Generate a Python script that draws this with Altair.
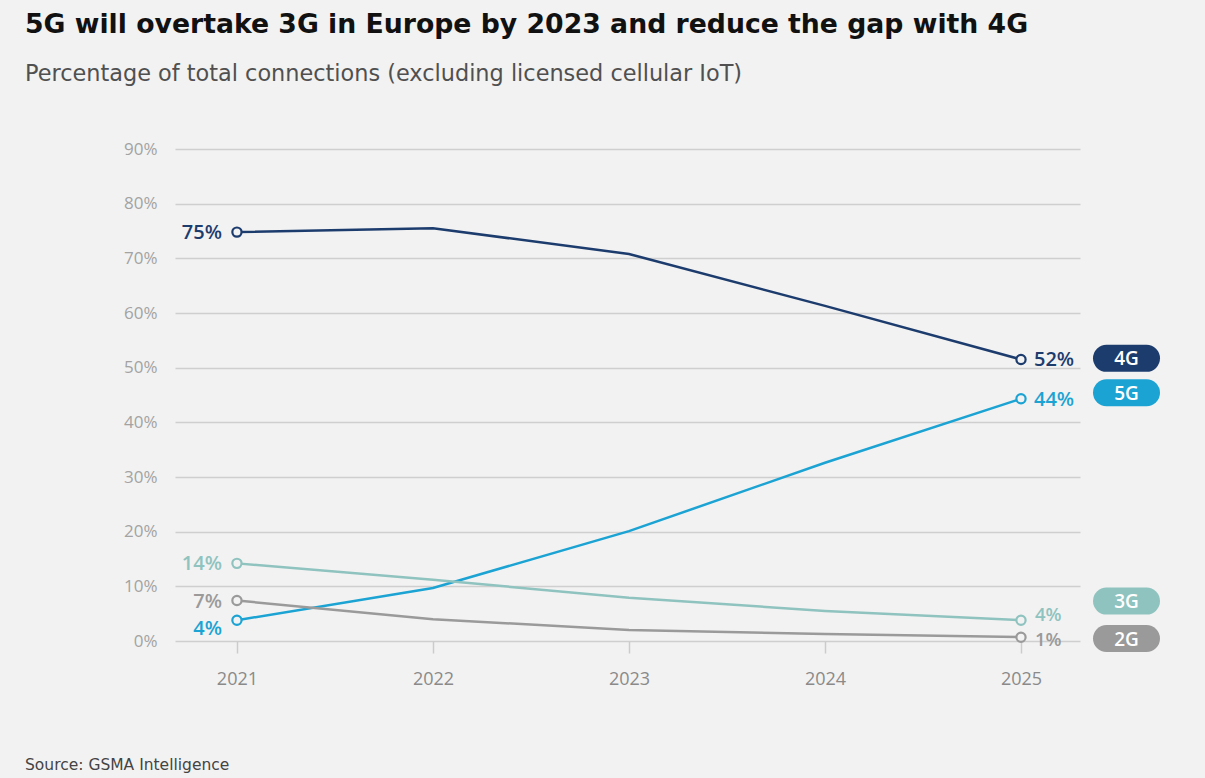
import altair as alt
import pandas as pd

# ---- data ----
years = [2021, 2022, 2023, 2024, 2025]
series = ["4G", "5G", "3G", "2G"]
g4 = [74.8, 75.5, 70.8, 61.3, 51.5]
g5 = [3.8, 9.7, 20.1, 32.6, 44.3]
g3 = [14.2, 11.2, 7.9, 5.5, 3.8]
g2 = [7.4, 4.0, 2.0, 1.3, 0.7]
start_labels = ["75%", "4%", "14%", "7%"]
end_labels = ["52%", "44%", "4%", "1%"]
legend_anchor = [51.7, 45.4, 7.3, 0.45]  # value level where each legend pill sits

title = "5G will overtake 3G in Europe by 2023 and reduce the gap with 4G"
subtitle = "Percentage of total connections (excluding licensed cellular IoT)"
source = "Source: GSMA Intelligence"
y_ticks = [0, 10, 20, 30, 40, 50, 60, 70, 80, 90]

colors = ["#1d3c6e", "#1ba3d3", "#8fc3bf", "#9a9a9a"]
FONT = "Open Sans"
HFONT = "DejaVu Sans"
BG = "#f2f2f2"

vals = {"4G": g4, "5G": g5, "3G": g3, "2G": g2}
rows = []
for s in series:
    for yr, v in zip(years, vals[s]):
        rows.append({"series": s, "year": yr, "value": v})
df = pd.DataFrame(rows)

lab_rows = []
for i, s in enumerate(series):
    lab_rows.append({"series": s, "year": years[0], "value": vals[s][0], "text": start_labels[i], "side": "start"})
    lab_rows.append({"series": s, "year": years[-1], "value": vals[s][-1], "text": end_labels[i], "side": "end"})
labels = pd.DataFrame(lab_rows)

legend_df = pd.DataFrame({"series": series, "value": legend_anchor})

color = alt.Color("series:N", scale=alt.Scale(domain=series, range=colors), legend=None)
xenc = alt.X("year:Q",
             scale=alt.Scale(domain=[2020.684, 2025.301], nice=False, zero=False),
             axis=alt.Axis(values=years, format="d", title=None, grid=False, domain=False,
                           ticks=True, tickSize=12, tickColor="#cccccc", tickWidth=1.5,
                           labelFont=FONT, labelFontSize=18, labelColor="#8a8a8a", labelPadding=17))
yenc = alt.Y("value:Q",
             scale=alt.Scale(domain=[0, 90], nice=False),
             axis=alt.Axis(values=y_ticks, labelExpr="datum.value + '%'", title=None, domain=False,
                           ticks=False, grid=True, gridColor="#cfcfcf", gridWidth=1.5,
                           labelFont=FONT, labelFontSize=17, labelColor="#a3a3a3", labelPadding=18))

base = alt.Chart(df)
lines = base.mark_line(strokeWidth=2.5).encode(x=xenc, y=yenc, color=color, order="year:Q")
pts = alt.Chart(labels).mark_point(shape="circle", filled=False, size=85, strokeWidth=2.2,
                                   fill=BG, fillOpacity=1, opacity=1).encode(
    x="year:Q", y="value:Q", stroke=alt.Stroke("series:N", scale=alt.Scale(domain=series, range=colors), legend=None))

tstyle = dict(font=FONT, fontSize=20, fontWeight=600)
sstyle = dict(font=FONT, fontSize=18.5, fontWeight=600)
left_main = alt.Chart(labels).transform_filter("datum.side == 'start' && datum.series != '5G'").mark_text(
    align="right", baseline="middle", dx=-15, dy=1, **tstyle).encode(x="year:Q", y="value:Q", text="text:N", color=color)
left_5g = alt.Chart(labels).transform_filter("datum.side == 'start' && datum.series == '5G'").mark_text(
    align="right", baseline="middle", dx=-15, dy=9, **tstyle).encode(x="year:Q", y="value:Q", text="text:N", color=color)
right_main = alt.Chart(labels).transform_filter(
    "datum.side == 'end' && datum.series != '3G' && datum.series != '2G'").mark_text(
    align="left", baseline="middle", dx=13, dy=1, **tstyle).encode(x="year:Q", y="value:Q", text="text:N", color=color)
right_3g = alt.Chart(labels).transform_filter("datum.side == 'end' && datum.series == '3G'").mark_text(
    align="left", baseline="middle", dx=14, dy=-5, **sstyle).encode(x="year:Q", y="value:Q", text="text:N", color=color)
right_2g = alt.Chart(labels).transform_filter("datum.side == 'end' && datum.series == '2G'").mark_text(
    align="left", baseline="middle", dx=14, dy=3, **sstyle).encode(x="year:Q", y="value:Q", text="text:N", color=color)

pills = alt.Chart(legend_df).mark_rule(strokeWidth=27, strokeCap="round").encode(
    x=alt.value(931.5), x2=alt.value(971.5), y="value:Q", color=color)
pill_text = alt.Chart(legend_df).mark_text(color="white", font=FONT, fontSize=19, fontWeight=600,
                                           align="center", baseline="middle", dy=1).encode(
    x=alt.value(951.5), y="value:Q", text="series:N")

one = pd.DataFrame({"a": [0]})
t_title = alt.Chart(one).mark_text(text=title, align="left", baseline="alphabetic", font=HFONT,
                                   fontSize=26.7, fontWeight="bold", color="#111111").encode(
    x=alt.value(-150), y=alt.value(-116))
t_sub = alt.Chart(one).mark_text(text=subtitle, align="left", baseline="middle", font=HFONT,
                                 fontSize=22.4, color="#505050").encode(x=alt.value(-150), y=alt.value(-75))
t_src = alt.Chart(one).mark_text(text=source, align="left", baseline="middle", font=HFONT,
                                 fontSize=15.5, color="#444444").encode(x=alt.value(-150), y=alt.value(616))

chart = alt.layer(lines, pts, left_main, left_5g, right_main, right_3g, right_2g, pills, pill_text,
                  t_title, t_sub, t_src).properties(
    width=905, height=492,
    autosize=alt.AutoSizeParams(type="none"),
    padding={"left": 175, "top": 149, "right": 125, "bottom": 137},
    background=BG,
).configure_view(stroke=None)

chart.save("out.html", embed_options={"renderer": "svg", "actions": False})
